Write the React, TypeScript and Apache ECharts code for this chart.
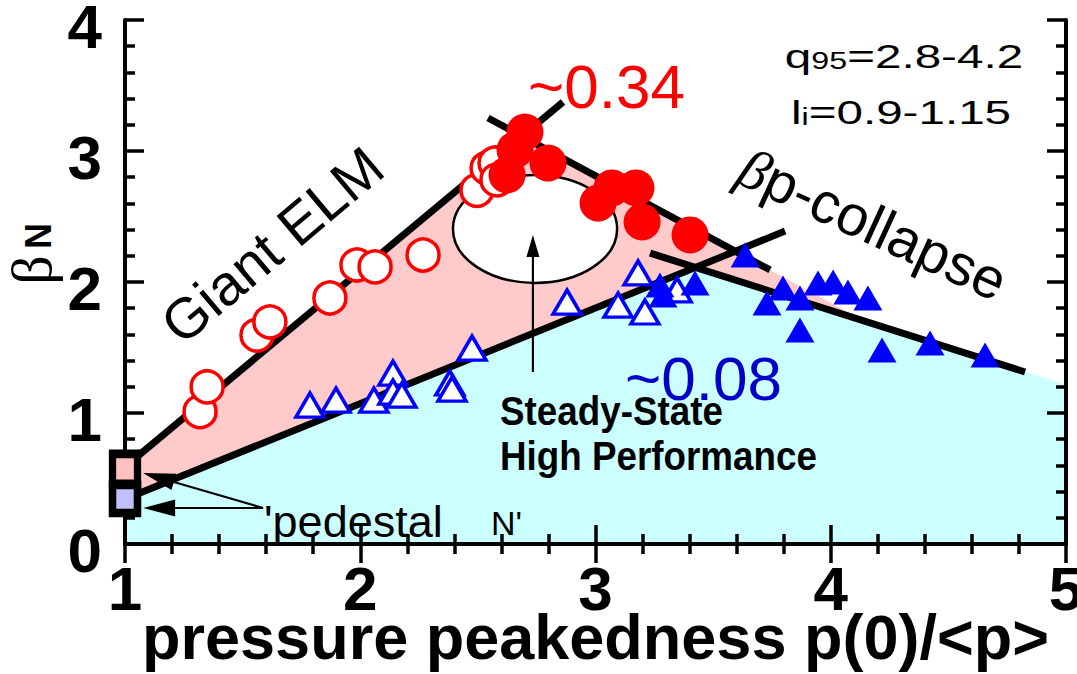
import React, { useEffect, useRef } from "react";
import * as echarts from "echarts";

// ---- data (x = p(0)/<p>, y = beta_N) ----
const xTickValues = [1, 2, 3, 4, 5];
const yTickValues = [0, 1, 2, 3, 4];

const giantElmOpen: number[][] = [
  [1.319, 1.01], [1.349, 1.2], [1.561, 1.595], [1.616, 1.695], [1.871, 1.878],
  [1.986, 2.13], [2.063, 2.115], [2.267, 2.206], [2.496, 2.7], [2.539, 2.87],
  [2.573, 2.908], [2.581, 2.78],
];
const highPerfFilled: number[][] = [
  [2.7, 3.145], [2.658, 3.008], [2.624, 2.817], [2.798, 2.908], [3.011, 2.603],
  [3.07, 2.718], [3.172, 2.718], [3.198, 2.458], [3.402, 2.359],
];
const openTriangles: number[][] = [
  [1.786, 1.061], [1.897, 1.099], [2.058, 1.099], [2.139, 1.305], [2.139, 1.16],
  [2.177, 1.137], [2.381, 1.229], [2.39, 1.183], [2.475, 1.496], [2.879, 1.847],
  [3.096, 1.824], [3.21, 1.771], [3.181, 2.069], [3.347, 1.939],
];
const filledTriangles: number[][] = [
  [3.636, 2.206], [3.274, 1.977], [3.287, 1.901], [3.423, 1.992], [3.729, 1.84],
  [3.797, 1.954], [3.869, 1.878], [3.869, 1.634], [3.946, 1.992], [4.01, 2.0],
  [4.073, 1.924], [4.158, 1.878], [4.218, 1.481], [4.422, 1.534], [4.656, 1.443],
];

// boundary lines
const elmLine: number[][] = [[1.0, 0.59], [2.862, 3.374]];
const collapseUpper: number[][] = [[2.543, 3.252], [3.742, 2.092]];
const collapseLower: number[][] = [[3.232, 2.221], [4.826, 1.313]];
const peakLowLine: number[][] = [[1.0, 0.343], [3.806, 2.389]];

// shaded regions
const pinkRegion: number[][] = [[1.0, 0.59], [2.688, 3.11], [4.12, 1.725], [3.427, 2.115], [1.0, 0.343]];
const cyanRegion: number[][] = [[1.0, 0.0], [1.0, 0.343], [3.427, 2.115], [5.0, 1.214], [5.0, 0.0]];

// steady-state ellipse [cx, cy, rx, ry]
const steadyEllipse: number[][] = [[2.743, 2.405, 0.349, 0.412]];
// arrows [x1, y1, x2(tip), y2(tip)]
const pedestalArrows: number[][] = [[1.587, 0.275, 1.077, 0.542], [1.587, 0.275, 1.077, 0.275]];
const steadyArrow: number[][] = [[2.734, 1.313, 2.734, 2.359]];
// pedestal boxes
const pedestalPink: number[][] = [[1.0, 0.573]];
const pedestalBlue: number[][] = [[1.0, 0.344]];

const FONT = '"Liberation Sans", Arial, Helvetica, sans-serif';

function polygonSeries(pts: number[][], color: string, z: number) {
  return {
    type: "custom",
    data: pts,
    z,
    silent: true,
    encode: { x: 0, y: 1 },
    renderItem: (params: any, api: any) => {
      if (params.dataIndex !== 0) return { type: "group", children: [] };
      const points = pts.map((p) => api.coord(p));
      return { type: "polygon", shape: { points }, style: { fill: color } };
    },
  };
}

function arrowSeries(data: number[][], headLen: number, headW: number, lw: number) {
  return {
    type: "custom",
    data,
    z: 6,
    silent: true,
    encode: { x: [0, 2], y: [1, 3] },
    renderItem: (params: any, api: any) => {
      const p1 = api.coord([api.value(0), api.value(1)]);
      const p2 = api.coord([api.value(2), api.value(3)]);
      const dx = p2[0] - p1[0];
      const dy = p2[1] - p1[1];
      const L = Math.hypot(dx, dy) || 1;
      const ux = dx / L;
      const uy = dy / L;
      const bx = p2[0] - ux * headLen;
      const by = p2[1] - uy * headLen;
      const nx = -uy;
      const ny = ux;
      return {
        type: "group",
        children: [
          { type: "line", shape: { x1: p1[0], y1: p1[1], x2: bx, y2: by }, style: { stroke: "#000", lineWidth: lw } },
          {
            type: "polygon",
            shape: { points: [[p2[0], p2[1]], [bx + (nx * headW) / 2, by + (ny * headW) / 2], [bx - (nx * headW) / 2, by - (ny * headW) / 2]] },
            style: { fill: "#000" },
          },
        ],
      };
    },
  };
}

function lineSeries(pts: number[][]) {
  return {
    type: "line",
    data: pts,
    z: 5,
    showSymbol: false,
    symbol: "none",
    silent: true,
    lineStyle: { color: "#000", width: 7, cap: "butt" },
  };
}

export default function App() {
  const ref = useRef<HTMLDivElement>(null);
  useEffect(() => {
    if (!ref.current) return;
    const chart = echarts.init(ref.current, undefined, { renderer: "svg" });
    const axisCommon = {
      type: "value",
      z: 10,
      interval: 1,
      splitLine: { show: false },
      axisLine: { show: true, lineStyle: { color: "#000", width: 4 } },
      axisTick: { show: true, inside: true, length: 19, lineStyle: { color: "#000", width: 3.5 } },
      minorTick: { show: true, splitNumber: 5, length: 10, lineStyle: { color: "#000", width: 3.5 } },
    };
    const option: any = {
      animation: false,
      textStyle: { fontFamily: FONT },
      grid: { left: 125, right: 11, top: 20, bottom: 130, containLabel: false, outerBoundsMode: "none" },
      xAxis: [
        {
          ...axisCommon,
          position: "bottom",
          min: 1,
          max: 5,
          name: "pressure peakedness p(0)/<p>",
          nameLocation: "middle",
          nameGap: 71,
          nameMoveOverlap: false,
          nameTextStyle: { fontSize: 63, lineHeight: 44, fontWeight: "bold", color: "#000", fontFamily: FONT },
          axisLabel: {
            show: true, fontSize: 62, lineHeight: 44, fontWeight: "bold", color: "#000", margin: 22, fontFamily: FONT,
            formatter: (v: number) => (xTickValues.includes(v) ? String(v) : ""),
          },
        },
        { ...axisCommon, position: "top", min: 1, max: 5, axisLabel: { show: false } },
      ],
      yAxis: [
        {
          ...axisCommon,
          position: "left",
          min: 0,
          max: 4,
          axisLabel: {
            show: true, fontSize: 62, lineHeight: 12, verticalAlign: "top", fontWeight: "bold", color: "#000", margin: 23, fontFamily: FONT,
            formatter: (v: number) => (yTickValues.includes(v) ? String(v) : ""),
          },
        },
        { ...axisCommon, position: "right", min: 0, max: 4, axisLabel: { show: false } },
      ],
      series: [
        polygonSeries(cyanRegion, "#ccffff", 1),
        polygonSeries(pinkRegion, "#ffcaca", 1),
        {
          type: "custom",
          data: steadyEllipse,
          z: 3,
          silent: true,
          encode: { x: 0, y: 1 },
          renderItem: (params: any, api: any) => {
            const c = api.coord([api.value(0), api.value(1)]);
            const s = api.size([api.value(2), api.value(3)]);
            return {
              type: "ellipse",
              shape: { cx: c[0], cy: c[1], rx: s[0], ry: s[1] },
              style: { fill: "#ffffff", stroke: "#000", lineWidth: 2.5 },
            };
          },
        },
        lineSeries(elmLine),
        lineSeries(collapseUpper),
        lineSeries(collapseLower),
        lineSeries(peakLowLine),
        arrowSeries(steadyArrow, 22, 13, 2.2),
        arrowSeries(pedestalArrows, 32, 17, 2.2),
        {
          type: "scatter", data: giantElmOpen, z: 7, symbol: "circle", symbolSize: 32,
          itemStyle: { color: "#ffffff", borderColor: "#ff0000", borderWidth: 3.5, opacity: 1 },
        },
        {
          type: "scatter", data: highPerfFilled, z: 8, symbol: "circle", symbolSize: 37,
          itemStyle: { color: "#ff0000", opacity: 1 },
        },
        {
          type: "scatter", data: openTriangles, z: 7, symbol: "triangle", symbolSize: [28, 24],
          itemStyle: { color: "#ffffff", borderColor: "#0000ff", borderWidth: 3.5, opacity: 1 },
        },
        {
          type: "scatter", data: filledTriangles, z: 8, symbol: "triangle", symbolSize: [29, 25],
          itemStyle: { color: "#0000ff", opacity: 1 },
        },
        {
          type: "scatter", data: pedestalPink, z: 20, symbol: "rect", symbolSize: [25, 30],
          itemStyle: { color: "#ffc0c0", borderColor: "#000", borderWidth: 8, opacity: 1 },
        },
        {
          type: "scatter", data: pedestalBlue, z: 20, symbol: "rect", symbolSize: [25, 28],
          itemStyle: { color: "#c0c0ff", borderColor: "#000", borderWidth: 8, opacity: 1 },
        },
      ],
      graphic: [
        {
          type: "text", x: 272, y: 245, rotation: 0.7, z: 100,
          style: { text: "Giant ELM", fontSize: 57, fontFamily: FONT, fill: "#000", align: "center", verticalAlign: "middle" },
        },
        {
          type: "text", x: 873, y: 224, rotation: -0.43, z: 100,
          style: {
            text: "{g|β}{t|p-collapse}",
            align: "center", verticalAlign: "middle",
            rich: {
              g: { fontSize: 57, fontFamily: '"Liberation Serif", serif', fontStyle: "italic", fill: "#000" },
              t: { fontSize: 57, fontFamily: FONT, fill: "#000" },
            },
          },
        },
        {
          type: "text", x: 528, y: 86, z: 100,
          style: { text: "~0.34", fontSize: 62, fontFamily: FONT, fill: "#ff0000", align: "left", verticalAlign: "middle" },
        },
        {
          type: "text", x: 500, y: 411, z: 99, scaleX: 0.92,
          style: { text: "Steady-State", fontSize: 40, fontWeight: "bold", fontFamily: FONT, fill: "#000", align: "left", verticalAlign: "middle" },
        },
        {
          type: "text", x: 500, y: 456, z: 99, scaleX: 0.92,
          style: { text: "High Performance", fontSize: 40, fontWeight: "bold", fontFamily: FONT, fill: "#000", align: "left", verticalAlign: "middle" },
        },
        {
          type: "text", x: 625, y: 378, z: 100,
          style: { text: "~0.08", fontSize: 62, fontFamily: FONT, fill: "#0000c8", align: "left", verticalAlign: "middle" },
        },
        {
          type: "text", x: 264, y: 521, z: 100,
          style: { text: "'pedestal", fontSize: 45, fontFamily: FONT, fill: "#000", align: "left", verticalAlign: "middle" },
        },
        {
          type: "text", x: 491, y: 523, z: 100,
          style: { text: "N'", fontSize: 34, fontFamily: FONT, fill: "#000", align: "left", verticalAlign: "middle" },
        },
        {
          type: "text", x: 904, y: 56, z: 100, scaleX: 1.4,
          style: {
            text: "{a|q}{b|95}{a|=2.8-4.2}",
            align: "center", verticalAlign: "middle",
            rich: {
              a: { fontSize: 34, fontFamily: FONT, fill: "#000", verticalAlign: "bottom" },
              b: { fontSize: 23, fontFamily: FONT, fill: "#000", verticalAlign: "bottom" },
            },
          },
        },
        {
          type: "text", x: 901, y: 112, z: 100, scaleX: 1.4,
          style: {
            text: "{a|l}{b|i}{a|=0.9-1.15}",
            align: "center", verticalAlign: "middle",
            rich: {
              a: { fontSize: 34, fontFamily: FONT, fill: "#000", verticalAlign: "bottom" },
              b: { fontSize: 23, fontFamily: FONT, fill: "#000", verticalAlign: "bottom" },
            },
          },
        },
        {
          type: "text", x: 31, y: 270, rotation: Math.PI / 2, z: 100,
          style: { text: "β", fontSize: 58, fontFamily: '"Liberation Serif", serif', fill: "#000", align: "center", verticalAlign: "middle" },
        },
        {
          type: "text", x: 38, y: 236, rotation: Math.PI / 2, z: 100,
          style: { text: "N", fontSize: 36, fontWeight: "bold", fontFamily: FONT, fill: "#000", align: "center", verticalAlign: "middle" },
        },
      ],
    };
    chart.setOption(option);
    return () => chart.dispose();
  }, []);
  return <div ref={ref} style={{ position: "absolute", left: 0, top: 0, width: 1077, height: 674 }} />;
}
